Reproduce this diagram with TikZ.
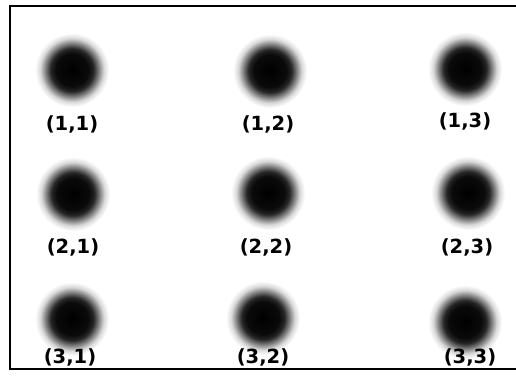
\documentclass[tikz,border=0pt]{standalone}
\usepackage{fontspec}
\setmainfont{DejaVu Sans}
\usepackage{tikz}
\usetikzlibrary{positioning}

\pgfdeclareradialshading{blobshade}{\pgfpoint{0bp}{0bp}}{%
  color(0bp)=(black); color(11bp)=(black!96); color(14.5bp)=(black!85);
  color(18bp)=(black!50); color(21.5bp)=(black!15); color(25bp)=(white);
  color(50bp)=(white)}

\begin{document}
\begin{tikzpicture}[
    x=1pt, y=-1pt,
    blob/.style={circle, draw=none, inner sep=0pt, minimum size=74pt, shading=blobshade},
    idx/.style={font=\fontsize{19.5}{22}\selectfont\bfseries, inner sep=0pt},
    frame/.style={line width=2pt},
]
\useasboundingbox (0,0) rectangle (516,379);

% === Frame: open on the right ===
\coordinate (tr) at (520,6);
\coordinate (tl) at (10,6);
\coordinate (bl) at (10,369);
\coordinate (br) at (520,369);
\draw[frame] (tr) -- (tl) -- (bl) -- (br);

% === Grid of blobs with their (row,col) labels ===
\foreach \r/\c/\bx/\by/\lx/\ly in {
    1/1/72/70/72/124, 1/2/270/71/268/124, 1/3/465/69/465/121,
    2/1/73/194/73/247, 2/2/268/193/266/247, 2/3/468/193/467/247,
    3/1/72/319/70/357, 3/2/263/318/263/357, 3/3/465/322/470/357}{
  \node[blob] (b\r\c) at (\bx,\by) {};
  \node[idx] (l\r\c) at (\lx,\ly) {(\r,\c)};
}

\end{tikzpicture}
\end{document}
